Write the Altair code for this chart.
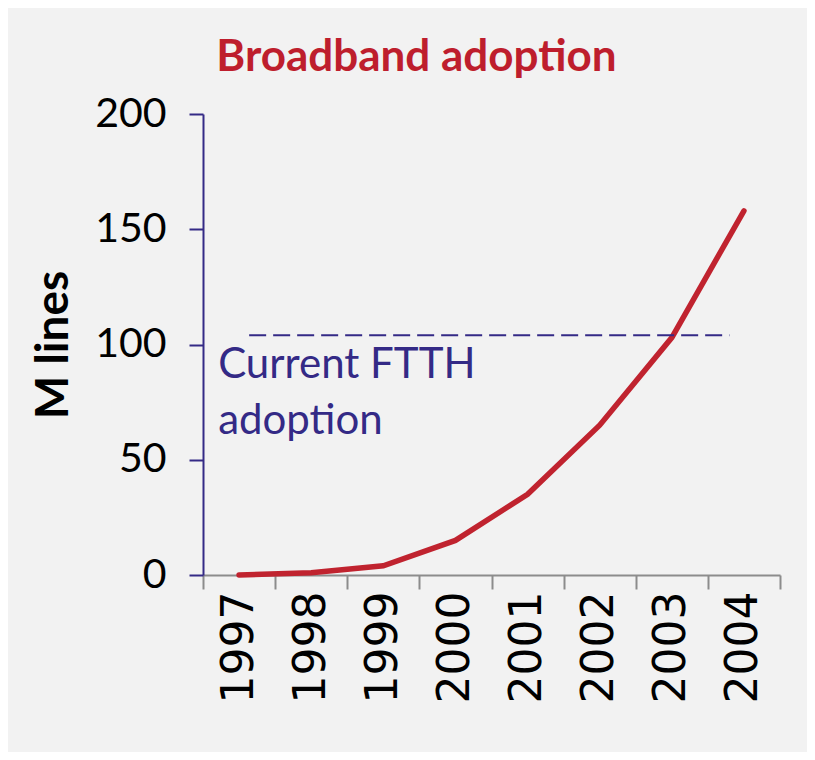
import altair as alt
import pandas as pd

# ---- data ----
years = ["1997", "1998", "1999", "2000", "2001", "2002", "2003", "2004"]
lines_m = [0, 1, 4, 15, 35, 65, 103, 158]

ftth_level = [104]          # current FTTH adoption (M lines)
ftth_from = [0.64]          # in category units along x
ftth_to = [7.3]
note_lines = ["Current FTTH", "adoption"]

# ---- styles ----
RED = "#c0232f"
BLUE = "#342a86"
BG = "#f2f2f2"

df = pd.DataFrame({"year": years, "lines": lines_m})
ref = pd.DataFrame({"x": ftth_from, "x2": ftth_to, "y": ftth_level})
note = pd.DataFrame({"x": [0.21], "y": [85.5], "t": [note_lines]})

yscale = alt.Scale(domain=[0, 200], nice=False)
xq = alt.Scale(domain=[0, len(years)], nice=False, zero=False)

yaxis = alt.Axis(title="M lines", values=[0, 50, 100, 150, 200],
                 labelFont="Lato", labelFontSize=41, labelColor="black",
                 labelPadding=23, tickSize=14, tickColor=BLUE,
                 domainColor=BLUE, domainWidth=2, tickWidth=2, grid=False,
                 titleFont="Lato", titleFontSize=46, titleFontWeight="bold",
                 titleColor="black", titleX=-126)

line = alt.Chart(df).mark_line(color=RED, strokeWidth=5.5, strokeCap="round").encode(
    x=alt.X("year:O", sort=years,
            scale=alt.Scale(type="band", paddingInner=0, paddingOuter=0),
            axis=alt.Axis(title=None, labelAngle=-90, labelAlign="right",
                          labelBaseline="middle",
                          labelFont="DejaVu Sans", labelFontSize=44, labelColor="black",
                          labelPadding=2, tickBand="extent", tickSize=14,
                          tickColor="#8c8c8c", domainColor="#8c8c8c",
                          domainWidth=2, tickWidth=2, grid=False)),
    y=alt.Y("lines:Q", scale=yscale, axis=yaxis),
)

rule = alt.Chart(ref).mark_rule(color=BLUE, strokeWidth=2, strokeDash=[17, 7]).encode(
    x=alt.X("x:Q", scale=xq, axis=None),
    x2="x2:Q",
    y=alt.Y("y:Q", scale=yscale, axis=yaxis),
)

text = alt.Chart(note).mark_text(align="left", baseline="alphabetic", font="Lato",
                                 fontSize=42, lineHeight=56, color=BLUE).encode(
    x=alt.X("x:Q", scale=xq, axis=None),
    y=alt.Y("y:Q", scale=yscale, axis=yaxis),
    text="t",
)

chart = alt.layer(line, rule, text).resolve_scale(x="independent").properties(
    width=577, height=461,
    autosize=alt.AutoSizeParams(type="none"),
    padding={"left": 195, "top": 106, "right": 27, "bottom": 177},
    background=BG,
    title=alt.TitleParams("Broadband adoption", font="Lato", fontSize=44,
                          fontWeight="bold", color="#be1e2d", anchor="middle",
                          dx=-75, offset=-22, baseline="alphabetic"),
).configure_view(stroke=None)

chart.save("out.html", embed_options={"renderer": "svg", "actions": False})
